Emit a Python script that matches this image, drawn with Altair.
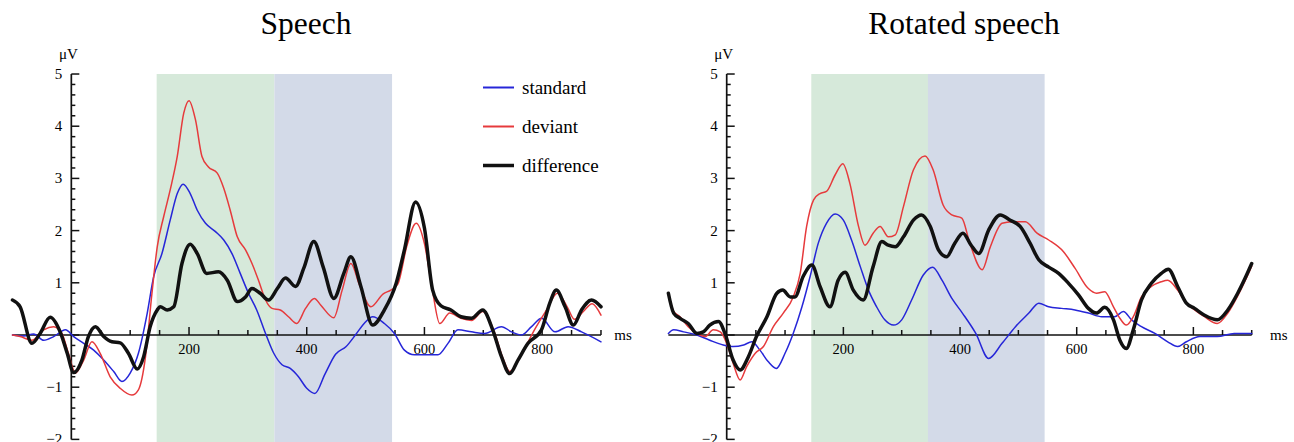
import altair as alt
import pandas as pd

# ---------------- data ----------------
SERIES = ["standard", "deviant", "difference"]
LINE_COLORS = ["#2626d8", "#e63a3c", "#111111"]
LINE_WIDTHS = [1.5, 1.5, 3.5]

# Speech panel
sp_std_t = [-100, -81, -64, -47, -30, -10, 4, 21, 38, 55, 72, 86, 100, 114, 129, 140, 154, 168, 180, 190,
            202, 214, 228, 245, 259, 273, 287, 301, 315, 330, 344, 358, 372, 386, 400, 414, 431, 449, 467,
            484, 499, 512, 532, 549, 566, 583, 600, 623, 640, 657, 680, 702, 731, 748, 765, 782, 799, 822,
            844, 867, 900]
sp_std_v = [0.0, -0.02, 0.02, -0.10, -0.03, 0.10, -0.03, -0.16, -0.29, -0.48, -0.70, -0.89, -0.73, -0.35,
            0.42, 1.12, 1.56, 2.20, 2.71, 2.89, 2.71, 2.39, 2.14, 1.98, 1.82, 1.56, 1.18, 0.80, 0.48, 0.03,
            -0.35, -0.57, -0.64, -0.80, -1.02, -1.12, -0.75, -0.37, -0.22, 0.02, 0.24, 0.35, 0.22, 0.03,
            -0.29, -0.38, -0.38, -0.38, -0.16, 0.10, 0.06, 0.03, 0.16, 0.06, 0.0, 0.16, 0.32, 0.06, 0.16,
            0.06, -0.13]

sp_dev_t = [-100, -87, -67, -47, -30, -16, -5, 7, 21, 35, 49, 66, 83, 103, 114, 126, 137, 146, 157, 168,
            180, 191, 200, 211, 222, 233, 248, 259, 270, 282, 296, 307, 318, 330, 341, 355, 369, 383, 398,
            413, 424, 446, 460, 475, 490, 509, 530, 543, 555, 570, 586, 600, 613, 626, 643, 662, 680, 699,
            718, 733, 745, 765, 786, 807, 826, 843, 855, 870, 885, 900]
sp_dev_v = [0.0, -0.03, -0.10, 0.10, 0.16, 0.03, -0.35, -0.73, -0.48, -0.13, -0.35, -0.80, -1.02, -1.15,
            -1.05, -0.42, 0.80, 1.69, 2.27, 2.78, 3.42, 4.25, 4.49, 4.12, 3.42, 3.22, 3.10, 2.81, 2.39, 1.88,
            1.63, 1.37, 1.05, 0.67, 0.51, 0.48, 0.35, 0.22, 0.51, 0.70, 0.57, 0.33, 0.85, 1.37, 0.95, 0.54,
            0.79, 0.86, 0.98, 1.70, 2.14, 1.75, 0.90, 0.22, 0.42, 0.32, 0.28, 0.45, 0.08, -0.43, -0.70,
            -0.37, 0.08, 0.47, 0.80, 0.53, 0.30, 0.45, 0.60, 0.38]

sp_dif_t = [-100, -87, -67, -53, -36, -19, -7, 4, 18, 29, 41, 55, 69, 83, 97, 112, 123, 134, 146, 151, 163,
            174, 188, 202, 214, 230, 250, 265, 282, 296, 307, 321, 335, 350, 364, 381, 395, 412, 428, 446,
            463, 475, 492, 512, 532, 552, 566, 585, 600, 614, 628, 645, 662, 680, 699, 716, 731, 745, 759,
            776, 799, 813, 824, 839, 853, 867, 884, 900]
sp_dif_v = [0.67, 0.54, -0.16, 0.03, 0.34, 0.06, -0.35, -0.72, -0.48, -0.03, 0.16, -0.03, -0.13, -0.15,
            -0.35, -0.65, -0.41, 0.16, 0.48, 0.54, 0.48, 0.54, 1.37, 1.74, 1.56, 1.18, 1.21, 1.05, 0.64,
            0.73, 0.89, 0.80, 0.67, 0.89, 1.09, 0.93, 1.28, 1.79, 1.30, 0.70, 1.18, 1.50, 0.93, 0.19, 0.48,
            0.99, 1.63, 2.55, 2.05, 0.86, 0.56, 0.48, 0.35, 0.32, 0.48, 0.10, -0.42, -0.74, -0.48, -0.16,
            0.10, 0.61, 0.86, 0.54, 0.19, 0.48, 0.67, 0.54]

# Rotated speech panel
ro_std_t = [-100, -91, -74, -51, -29, -6, 11, 29, 43, 57, 71, 85, 100, 114, 129, 143, 157, 171, 186, 200,
            214, 229, 243, 257, 271, 286, 300, 317, 337, 353, 369, 386, 404, 427, 449, 472, 495, 518, 535,
            552, 574, 597, 620, 643, 665, 680, 694, 711, 734, 756, 773, 788, 811, 841, 870, 900]
ro_std_v = [0.03, 0.10, 0.06, 0.0, -0.10, -0.19, -0.22, -0.19, -0.13, -0.29, -0.51, -0.64, -0.35, 0.03,
            0.54, 1.12, 1.76, 2.14, 2.32, 2.20, 1.82, 1.31, 0.86, 0.54, 0.29, 0.19, 0.29, 0.67, 1.15, 1.30,
            1.05, 0.70, 0.42, 0.03, -0.45, -0.16, 0.16, 0.42, 0.61, 0.54, 0.51, 0.48, 0.42, 0.35, 0.35, 0.45,
            0.29, 0.16, 0.03, -0.13, -0.22, -0.13, -0.03, -0.03, 0.03, 0.03]

ro_dev_t = [-100, -91, -80, -66, -51, -37, -23, -11, 0, 11, 23, 34, 49, 63, 80, 97, 114, 126, 137, 149,
            160, 171, 186, 199, 211, 226, 237, 251, 263, 277, 289, 303, 320, 340, 354, 371, 386, 403, 417,
            438, 452, 472, 489, 512, 532, 552, 577, 597, 620, 634, 648, 663, 674, 685, 697, 711, 728, 745,
            756, 773, 788, 802, 819, 841, 859, 876, 890, 900]
ro_dev_v = [0.80, 0.45, 0.35, 0.16, 0.03, -0.03, 0.10, 0.06, -0.16, -0.54, -0.86, -0.61, -0.35, -0.22,
            0.16, 0.42, 0.73, 1.18, 2.08, 2.59, 2.71, 2.75, 3.07, 3.28, 2.91, 2.08, 1.72, 1.95, 2.08, 1.88,
            1.92, 2.46, 3.16, 3.43, 3.16, 2.49, 2.30, 2.24, 1.75, 1.25, 1.69, 2.14, 2.17, 2.17, 1.95, 1.82,
            1.60, 1.28, 0.89, 0.80, 0.83, 0.54, 0.32, 0.19, 0.35, 0.73, 0.93, 1.02, 1.05, 0.86, 0.61, 0.48,
            0.35, 0.22, 0.42, 0.75, 1.07, 1.32]

ro_dif_t = [-100, -91, -80, -66, -51, -40, -29, -14, -3, 11, 23, 37, 51, 69, 86, 96, 109, 117, 131, 146,
            160, 177, 191, 203, 217, 234, 251, 266, 277, 289, 303, 320, 334, 349, 363, 377, 391, 405, 419,
            432, 449, 469, 486, 503, 520, 535, 552, 569, 586, 603, 620, 634, 648, 663, 674, 685, 697, 711,
            728, 745, 757, 773, 788, 802, 819, 841, 859, 876, 890, 900]
ro_dif_v = [0.80, 0.42, 0.32, 0.22, 0.03, 0.06, 0.19, 0.26, 0.03, -0.48, -0.67, -0.42, -0.03, 0.35, 0.80,
            0.86, 0.73, 0.73, 1.12, 1.34, 0.93, 0.54, 1.05, 1.20, 0.86, 0.67, 1.31, 1.79, 1.72, 1.69, 1.88,
            2.20, 2.30, 2.08, 1.63, 1.50, 1.76, 1.95, 1.72, 1.56, 2.01, 2.30, 2.20, 2.08, 1.76, 1.44, 1.30,
            1.18, 0.99, 0.77, 0.51, 0.42, 0.53, 0.29, -0.10, -0.26, 0.10, 0.67, 0.99, 1.18, 1.26, 0.93,
            0.61, 0.51, 0.38, 0.29, 0.48, 0.80, 1.12, 1.37]

# analysis windows (ms)
WIN_STARTS = [145, 345]
WIN_ENDS = [345, 545]

X_TICKS = list(range(50, 901, 50))
X_LABELS = [200, 400, 600, 800]
Y_TICKS = [round(-2 + 0.2 * i, 1) for i in range(36)]
Y_LABELS = [-2, -1, 1, 2, 3, 4, 5]

# ---------------- layout ----------------
FONT = "Liberation Serif"
Y_DOM = [-2.05, 6.418]
H = 442
AXIS_COL = "#111111"
PX_PER_UV = H / (Y_DOM[1] - Y_DOM[0])


def panel(title, std, dev, dif, xdom, width, title_x, ms_dx, legend_x):
    xs = alt.Scale(domain=xdom, nice=False, zero=False)
    ys = alt.Scale(domain=Y_DOM, nice=False, zero=False)
    X = lambda f: alt.X(f, type="quantitative", scale=xs, axis=None)
    Y = lambda f: alt.Y(f, type="quantitative", scale=ys, axis=None)
    ms_per_px = (xdom[1] - xdom[0]) / width

    zone_cols = ["#d6e9da", "#d3dae8"]
    zones = [
        alt.Chart(pd.DataFrame({"s": [WIN_STARTS[i]], "e": [WIN_ENDS[i]]}))
        .transform_calculate(top="5", bot=str(Y_DOM[0]))
        .mark_rect(color=zone_cols[i], opacity=1)
        .encode(x=X("s"), x2="e", y=Y("top"), y2="bot")
        for i in range(2)
    ]

    sym_w = "datum.value === 'difference' ? %s : %s" % (LINE_WIDTHS[2], LINE_WIDTHS[0] + 0.5)
    leg = alt.Legend(title=None, orient="none", legendX=legend_x, legendY=78, symbolType="stroke",
                     symbolSize=961, rowPadding=19, labelFont=FONT, labelFontSize=19, labelColor="#000",
                     labelOffset=14, symbolOpacity=1, symbolStrokeWidth={"expr": sym_w})
    lines = []
    for i, (name, (t, v)) in enumerate(zip(SERIES, [std, dev, dif])):
        df = pd.DataFrame({"ms": t, "uv": v, "series": name})
        lines.append(
            alt.Chart(df).mark_line(interpolate="monotone", clip=True, strokeJoin="round",
                                    strokeCap="round", strokeWidth=LINE_WIDTHS[i]).encode(
                x=X("ms"), y=Y("uv"),
                color=alt.Color("series:N", scale=alt.Scale(domain=SERIES, range=LINE_COLORS), legend=leg),
            )
        )

    xaxis = alt.Chart(pd.DataFrame({"a": [-100], "b": [900], "z": [0]})).mark_rule(
        color=AXIS_COL, strokeWidth=1.7).encode(x=X("a"), x2="b", y=Y("z"))
    yaxis = alt.Chart(pd.DataFrame({"a": [-2], "b": [5], "z": [0]})).mark_rule(
        color=AXIS_COL, strokeWidth=1.7).encode(y=Y("a"), y2="b", x=X("z"))

    # tick marks pointing into the plot (lengths converted from pixels to data units)
    xt = pd.DataFrame({"ms": X_TICKS})
    xticks = alt.Chart(xt).transform_calculate(
        z="0", top="(datum.ms %% 200 === 0 ? 8 : 5) / %f" % PX_PER_UV
    ).mark_rule(color=AXIS_COL, strokeWidth=1.5).encode(x=X("ms"), y=Y("z:Q"), y2="top:Q")

    yt = pd.DataFrame({"uv": Y_TICKS})
    yticks = alt.Chart(yt).transform_calculate(
        z="0", r="(abs(datum.uv - round(datum.uv)) < 0.01 ? 8 : 4) * %f" % ms_per_px
    ).mark_rule(color=AXIS_COL, strokeWidth=1.5).encode(x=X("z:Q"), x2="r:Q", y=Y("uv"))

    xl = pd.DataFrame({"ms": X_LABELS, "z": 0, "lab": [str(v) for v in X_LABELS]})
    xlabels = alt.Chart(xl).mark_text(font=FONT, fontSize=14.5, color="#000", dy=15,
                                      baseline="middle", clip=True).encode(x=X("ms"), y=Y("z"), text="lab:N")
    yl = pd.DataFrame({"uv": Y_LABELS, "z": 0, "lab": [str(v).replace("-", "\u2212") for v in Y_LABELS]})
    ylabels = alt.Chart(yl).mark_text(font=FONT, fontSize=15, color="#000", dx=-9, align="right",
                                      baseline="middle", clip=True).encode(x=X("z"), y=Y("uv"), text="lab:N")

    unit_y = alt.Chart(pd.DataFrame({"z": [0], "top": [5], "t": ["\u03bcV"]})).mark_text(
        font=FONT, fontSize=15, color="#000", dy=-20, dx=-3, baseline="middle").encode(
        x=X("z"), y=Y("top"), text="t:N")
    unit_x = alt.Chart(pd.DataFrame({"e": [900], "z": [0], "t": ["ms"]})).mark_text(
        font=FONT, fontSize=15, color="#000", dx=ms_dx, baseline="middle").encode(
        x=X("e"), y=Y("z"), text="t:N")
    ttl = alt.Chart(pd.DataFrame({"t": [title]})).mark_text(
        font=FONT, fontSize=31.5, color="#000", baseline="middle").encode(
        x=alt.value(title_x), y=alt.value(25), text="t:N")

    return alt.layer(*zones, xaxis, yaxis, xticks, yticks,
                     *lines, xlabels, ylabels, unit_y, unit_x, ttl).properties(width=width, height=H)


left = panel("Speech", (sp_std_t, sp_std_v), (sp_dev_t, sp_dev_v), (sp_dif_t, sp_dif_v),
             [-121.2, 974.8], 645, 306, 22, 489)
right = panel("Rotated speech", (ro_std_t, ro_std_v), (ro_dev_t, ro_dev_v), (ro_dif_t, ro_dif_v),
              [-131.5, 972.5], 644, 314, 27, 494)

chart = alt.hconcat(left, right, spacing=5, bounds="flush").properties(
    padding=0, background="white"
).configure_view(stroke=None)

chart.save("out.html", embed_options={"renderer": "svg", "actions": False})
